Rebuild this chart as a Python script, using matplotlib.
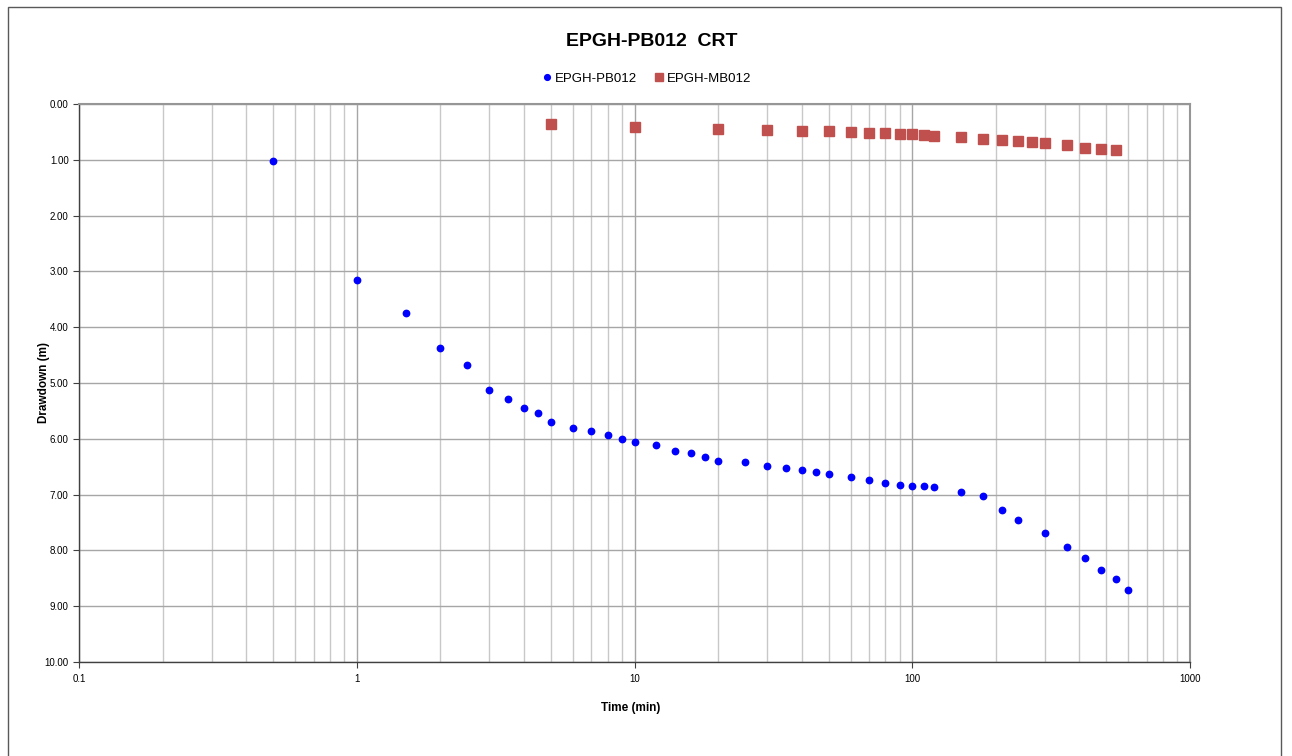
import matplotlib
matplotlib.use("Agg")
import matplotlib.pyplot as plt
from matplotlib.patches import Rectangle
from matplotlib.ticker import LogLocator, FixedLocator, FuncFormatter, NullFormatter

plt.rcParams['font.family'] = ['Liberation Sans', 'DejaVu Sans']

pb_time = [0.5, 1, 1.5, 2, 2.5, 3, 3.5, 4, 4.5, 5, 6, 7, 8, 9, 10, 12, 14, 16, 18, 20,
           25, 30, 35, 40, 45, 50, 60, 70, 80, 90, 100, 110, 120, 150, 180, 210, 240,
           300, 360, 420, 480, 540, 600]
pb_drawdown = [1.02, 3.16, 3.75, 4.37, 4.68, 5.13, 5.29, 5.45, 5.53, 5.69, 5.81, 5.86,
               5.93, 6.00, 6.06, 6.12, 6.21, 6.25, 6.33, 6.39, 6.42, 6.48, 6.53, 6.56,
               6.60, 6.63, 6.68, 6.74, 6.79, 6.82, 6.85, 6.85, 6.86, 6.95, 7.03, 7.28,
               7.46, 7.69, 7.94, 8.14, 8.35, 8.52, 8.71]

mb_time = [5, 10, 20, 30, 40, 50, 60, 70, 80, 90, 100, 110, 120, 150, 180, 210, 240,
           270, 300, 360, 420, 480, 540]
mb_drawdown = [0.35, 0.42, 0.45, 0.47, 0.49, 0.49, 0.51, 0.52, 0.52, 0.54, 0.54, 0.55,
               0.57, 0.59, 0.62, 0.65, 0.67, 0.68, 0.70, 0.73, 0.78, 0.80, 0.82]

y_ticks = [0, 1, 2, 3, 4, 5, 6, 7, 8, 9, 10]
x_ticks = [0.1, 1, 10, 100, 1000]
x_tick_labels = ["0.1", "1", "10", "100", "1000"]

W, H = 1292, 756
fig = plt.figure(figsize=(W / 100, H / 100), dpi=100)
fig.patch.set_facecolor('white')

# outer chart frame
fig.patches.append(Rectangle((8 / W, -0.02), (1281 - 8) / W, 1 - 7 / H + 0.02,
                             transform=fig.transFigure, fill=False,
                             edgecolor='#595959', linewidth=1.0))

ax = fig.add_axes([79 / W, 1 - 662 / H, (1190 - 79) / W, (662 - 104) / H])
ax.set_xscale('log')
ax.set_xlim(0.1, 1000)
ax.set_ylim(10, 0)

ax.xaxis.set_major_locator(FixedLocator(x_ticks))
ax.xaxis.set_major_formatter(FuncFormatter(lambda v, p: x_tick_labels[x_ticks.index(v)] if v in x_ticks else ""))
ax.xaxis.set_minor_locator(LogLocator(base=10, subs=range(2, 10), numticks=20))
ax.xaxis.set_minor_formatter(NullFormatter())
ax.yaxis.set_major_locator(FixedLocator(y_ticks))
ax.yaxis.set_major_formatter(FuncFormatter(lambda v, p: f"{v:.2f}"))

ax.grid(True, which='major', axis='both', color='#a6a6a6', linewidth=1.0)
ax.grid(True, which='minor', axis='x', color='#c8c8c8', linewidth=1.0)
ax.set_axisbelow(True)

for s in ['top', 'right']:
    ax.spines[s].set_color('#969696')
    ax.spines[s].set_linewidth(1.5)
for s in ['left', 'bottom']:
    ax.spines[s].set_color('#404040')
    ax.spines[s].set_linewidth(1.0)

ax.tick_params(axis='both', which='major', labelsize=7, length=4, color='#404040', direction='out')
ax.tick_params(axis='x', which='minor', length=0)
ax.tick_params(axis='x', pad=5)

ax.plot(pb_time, pb_drawdown, linestyle='none', marker='o', markersize=4.6,
        color='#0000ff', label='EPGH-PB012', zorder=3)
ax.plot(mb_time, mb_drawdown, linestyle='none', marker='s', markersize=7,
        color='#c0504d', label='EPGH-MB012', zorder=3)

fig.text(652 / W, 1 - 42 / H, 'EPGH-PB012  CRT', ha='center', va='center',
         fontsize=14, fontweight='bold')
fig.text(631 / W, 1 - 708 / H, 'Time (min)', ha='center', va='center',
         fontsize=8.5, fontweight='bold')
fig.text(44 / W, 1 - 382 / H, 'Drawdown (m)', ha='center', va='center',
         fontsize=8.5, fontweight='bold', rotation=90)

leg = fig.legend(loc='center', bbox_to_anchor=(646 / W, 1 - 79 / H), ncol=2,
                 frameon=False, fontsize=9.5, handletextpad=0.1, columnspacing=1.2,
                 handlelength=1.0, markerscale=0.9)

fig.savefig('out.png', dpi=100, facecolor='white')
